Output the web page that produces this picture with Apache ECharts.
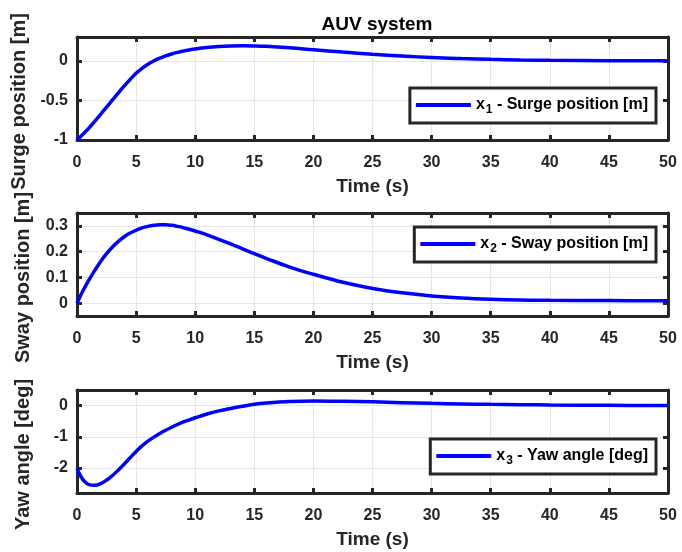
<!DOCTYPE html>
<html>
<head>
<meta charset="utf-8">
<script src="https://cdn.jsdelivr.net/npm/echarts@6/dist/echarts.min.js"></script>
<style>
  html, body { margin: 0; padding: 0; background: #fff; }
  #main { width: 682px; height: 552px; }
</style>
</head>
<body>
<div id="main"></div>
<script>
// simulation time (s)
const time = [0, 0.25, 0.5, 0.75, 1, 1.5, 2, 2.5, 3, 3.5, 4, 4.5, 5, 5.5, 6, 6.5, 7, 7.5, 8, 8.5, 9, 9.5, 10,
  11, 12, 13, 14, 15, 16, 18, 20, 22.5, 25, 27.5, 30, 32.5, 35, 37.5, 40, 45, 50]

// states
const surge = [-1, -0.965, -0.928, -0.89, -0.85, -0.765, -0.675, -0.585, -0.495, -0.405, -0.318, -0.235, -0.158, -0.095, -0.043, -0.002, 0.033, 0.062, 0.086, 0.106, 0.123, 0.137, 0.149,
  0.167, 0.179, 0.186, 0.189, 0.187, 0.182, 0.163, 0.139, 0.11, 0.083, 0.06, 0.041, 0.028, 0.018, 0.011, 0.006, 0.001, 0]
const sway = [0, 0.025, 0.048, 0.069, 0.089, 0.127, 0.162, 0.192, 0.218, 0.24, 0.258, 0.272, 0.283, 0.292, 0.298, 0.302, 0.304, 0.304, 0.302, 0.298, 0.293, 0.287, 0.28,
  0.265, 0.248, 0.23, 0.211, 0.192, 0.174, 0.14, 0.112, 0.081, 0.057, 0.04, 0.028, 0.02, 0.015, 0.012, 0.011, 0.01, 0.009]
const yaw = [-2, -2.22, -2.37, -2.47, -2.53, -2.55, -2.5, -2.39, -2.24, -2.06, -1.87, -1.67, -1.47, -1.29, -1.14, -1.01, -0.895, -0.79, -0.695, -0.605, -0.525, -0.455, -0.39,
  -0.27, -0.17, -0.09, -0.02, 0.04, 0.08, 0.13, 0.15, 0.14, 0.12, 0.095, 0.072, 0.055, 0.04, 0.03, 0.02, 0.008, 0.002]

const yNames = ['Surge position [m]', 'Sway position [m]', 'Yaw angle [deg]']
const legendSub = ['1', '2', '3']
const legendText = [' - Surge position [m]', ' - Sway position [m]', ' - Yaw angle [deg]']
const yMin = [-1, -0.05, -2.8]
const yMax = [0.3, 0.35, 0.5]
const yTicks = [[-1, -0.5, 0], [0, 0.1, 0.2, 0.3], [-2, -1, 0]]
const xTicks = [0, 5, 10, 15, 20, 25, 30, 35, 40, 45, 50]

const FONT = 'Liberation Sans'
const DARK = '#262626'
const tops = [37, 213, 390]
const legendTops = [88, 227, 439]

const chart = echarts.init(document.getElementById('main'), null, { renderer: 'canvas' })

const grids = [], xAxes = [], yAxes = [], series = [], legends = []
const allData = [surge, sway, yaw]

const line = { show: true, onZero: false, lineStyle: { color: DARK, width: 3 } }
const label = { color: DARK, fontFamily: FONT, fontWeight: 'bold', fontSize: 16 }
const grid = { show: true, lineStyle: { color: '#e6e6e6', width: 1 } }
const tickOf = (vals) => ({ show: true, inside: true, length: 5, customValues: vals, lineStyle: { color: DARK, width: 3 } })

for (let i = 0; i < 3; i++) {
  grids.push({ left: 77, right: 14, top: tops[i], height: 103 })
  // bottom x axis with labels
  xAxes.push({
    type: 'value', gridIndex: i, min: 0, max: 50,
    axisLine: line, axisTick: tickOf(xTicks),
    axisLabel: Object.assign({ margin: 15, customValues: xTicks }, label),
    splitLine: grid,
    name: 'Time (s)', nameLocation: 'middle', nameGap: 37,
    nameTextStyle: { color: DARK, fontFamily: FONT, fontWeight: 'bold', fontSize: 19 }
  })
  // top x axis, box + ticks only
  xAxes.push({
    type: 'value', gridIndex: i, position: 'top', min: 0, max: 50,
    axisLine: line, axisTick: tickOf(xTicks), axisLabel: { show: false }, splitLine: { show: false }
  })
  yAxes.push({
    type: 'value', gridIndex: i, min: yMin[i], max: yMax[i],
    axisLine: line, axisTick: tickOf(yTicks[i]),
    axisLabel: Object.assign({ margin: 9, customValues: yTicks[i] }, label),
    splitLine: grid,
    name: yNames[i], nameLocation: 'middle', nameGap: 44,
    nameTextStyle: { color: DARK, fontFamily: FONT, fontWeight: 'bold', fontSize: 20, padding: [0, 26, 0, 0] }
  })
  yAxes.push({
    type: 'value', gridIndex: i, position: 'right', min: yMin[i], max: yMax[i],
    axisLine: line, axisTick: tickOf(yTicks[i]), axisLabel: { show: false }, splitLine: { show: false }
  })
  const name = 'x' + legendSub[i]
  series.push({
    name: name, type: 'line', xAxisIndex: i * 2, yAxisIndex: i * 2,
    data: time.map((t, k) => [t, allData[i][k]]),
    symbol: 'none', smooth: 0.4,
    lineStyle: { color: '#0000ff', width: 3.5 }, itemStyle: { color: '#0000ff' }
  })
  legends.push({
    data: [name], right: 26, top: legendTops[i], orient: 'vertical',
    backgroundColor: '#fff', borderColor: DARK, borderWidth: 3, borderRadius: 0,
    padding: [9, 8, 7, 6], itemWidth: 55, itemHeight: 4, icon: 'rect',
    formatter: () => '{b|x}{s|' + legendSub[i] + '}{b|' + legendText[i] + '}',
    textStyle: {
      rich: {
        b: { fontFamily: FONT, fontWeight: 'bold', fontSize: 16, color: '#000' },
        s: { fontFamily: FONT, fontWeight: 'bold', fontSize: 12, color: '#000', padding: [10, 0, 0, 1] }
      }
    }
  })
}

chart.setOption({
  animation: false,
  title: {
    text: 'AUV system', left: 372, top: 10, textAlign: 'center',
    textStyle: { fontFamily: FONT, fontWeight: 'bold', fontSize: 19, color: '#000' }
  },
  grid: grids,
  xAxis: xAxes,
  yAxis: yAxes,
  legend: legends,
  series: series
})
</script>
</body>
</html>
